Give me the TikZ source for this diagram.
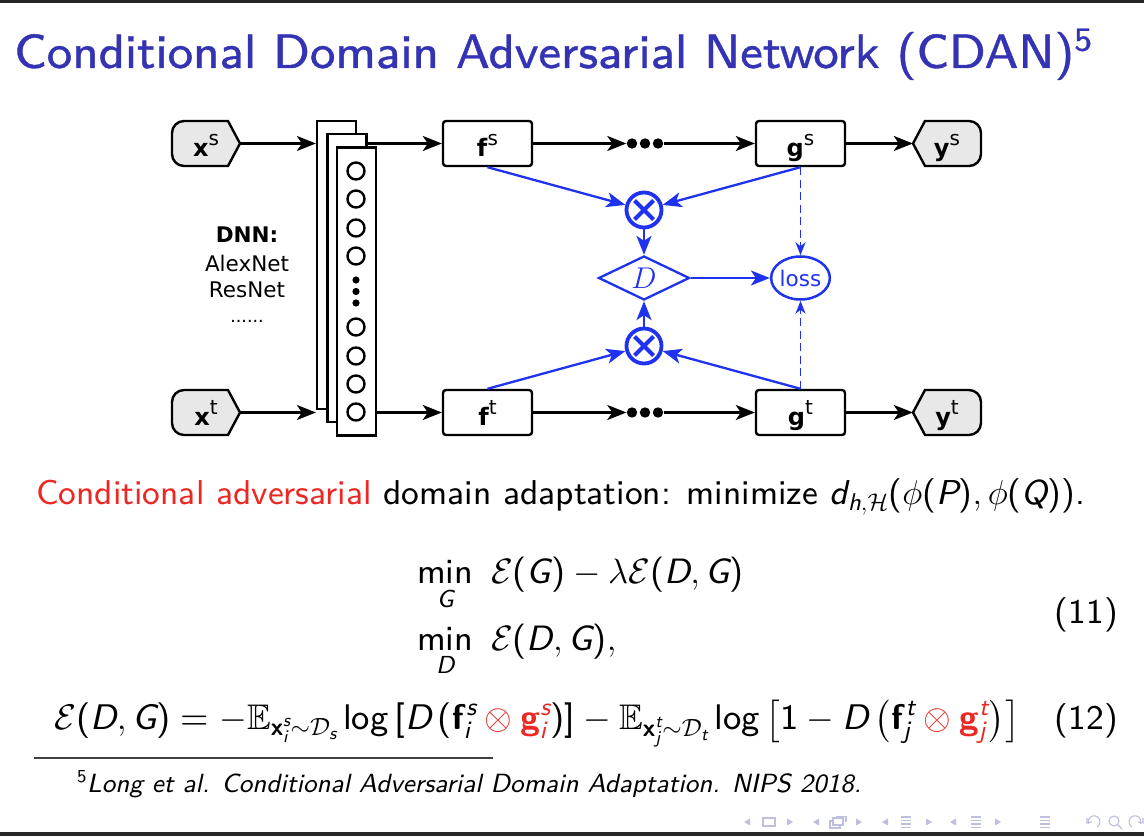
\RequirePackage{fix-cm}
\documentclass[tikz,border=0pt]{standalone}
\usepackage{amssymb}
\usepackage[no-math]{fontspec}
\newfontfamily\dvs{DejaVu Sans}
% slide text face: Latin Modern Sans at its 9pt design size
\newfontfamily\sfN{lmsans9}[Extension=.otf, UprightFont=*-regular, ItalicFont=*-oblique,
  BoldFont=lmsans10-bold, NFSSFamily=lmsN]
\newfontfamily\titlefont{lmsans8}[Extension=.otf, UprightFont=*-regular, FakeBold=0.8]
\usetikzlibrary{arrows.meta,shapes.geometric}

% sans-serif maths in the usual slide style
\SetSymbolFont{operators}{normal}{TU}{lmsN}{m}{n}
\DeclareMathAlphabet{\mi}{TU}{lmsN}{m}{it}
\DeclareMathAlphabet{\mbf}{OT1}{cmss}{bx}{n}

\definecolor{titleblue}{RGB}{51,51,179}
\definecolor{netblue}{RGB}{30,50,240}
\definecolor{alertred}{RGB}{235,40,35}
\definecolor{iogray}{RGB}{232,232,232}
\definecolor{navcol}{RGB}{190,190,222}
\definecolor{barcol}{RGB}{38,38,38}

% bold vector with an upright superscript
\newcommand{\vlab}[2]{\textbf{#1}\raisebox{11pt}{\fontsize{20}{20}\selectfont #2}}

\tikzset{
  blk/.style={line width=2.3pt, -{Stealth[length=19pt,width=15pt,inset=5pt]}},
  blu/.style={netblue, line width=2.3pt, -{Stealth[length=19pt,width=15pt,inset=5pt]}},
  bludash/.style={netblue, line width=1.8pt, dash pattern=on 8pt off 4.5pt,
                  -{Stealth[length=13pt,width=10pt,inset=4pt]}},
  featbox/.style={draw, line width=2.4pt, rounded corners=3pt, minimum width=89pt,
                  minimum height=45pt, inner sep=0pt, text height=28pt, text depth=1pt,
                  font=\dvs\fontsize{24}{24}\selectfont},
  iobox/.style={minimum width=68pt, minimum height=45pt, inner sep=0pt,
                text height=28pt, text depth=1pt, font=\dvs\fontsize{24}{24}\selectfont},
  iofill/.style={draw, fill=iogray, line width=2.4pt},
  layer/.style={draw, fill=white, line width=2.2pt, inner sep=0pt,
                minimum width=39pt, minimum height=288pt},
  unit/.style={circle, draw, line width=2.4pt, minimum size=17pt, inner sep=0pt},
  dotrow/.style={minimum width=37pt, minimum height=10pt, inner sep=0pt},
  prod/.style={circle, draw=netblue, line width=3.8pt, minimum size=35pt, inner sep=0pt},
  dnntext/.style={font=\dvs\fontsize{21.5}{26}\selectfont, anchor=base, inner sep=0pt},
  body/.style={font=\sfN\fontsize{34.5}{41}\selectfont, inner sep=0pt},
}

\begin{document}
\begin{tikzpicture}[x=1pt, y=1pt]
\useasboundingbox (0,0) rectangle (1144,836);
\fill[white] (0,0) rectangle (1144,836);
\fill[barcol] (0,833) rectangle (1144,836);
\fill[barcol] (0,0) rectangle (1144,4);

% ---- title ----
\node[anchor=base west, inner sep=0pt, text=titleblue,
      font=\titlefont\fontsize{48}{56}\selectfont] (title) at (14,768)
  {Conditional Domain Adversarial Network (CDAN)\textsuperscript{5}};

% ---- input / output shapes ----
% x^s, x^t : rounded on the left, pointed on the right
\path[iofill] (228,715) -- (184,715) arc[start angle=90,end angle=180,radius=12]
  -- (172,682) arc[start angle=180,end angle=270,radius=12] -- (228,670) -- (240,692.5) -- cycle;
\path[iofill] (228,446) -- (184,446) arc[start angle=90,end angle=180,radius=12]
  -- (172,413) arc[start angle=180,end angle=270,radius=12] -- (228,401) -- (240,423.5) -- cycle;
% y^s, y^t : pointed on the left, rounded on the right
\path[iofill] (925,715) -- (969,715) arc[start angle=90,end angle=0,radius=12]
  -- (981,682) arc[start angle=0,end angle=-90,radius=12] -- (925,670) -- (913,692.5) -- cycle;
\path[iofill] (925,446) -- (969,446) arc[start angle=90,end angle=0,radius=12]
  -- (981,413) arc[start angle=0,end angle=-90,radius=12] -- (925,401) -- (913,423.5) -- cycle;

\node[iobox] (xs) at (206,692.5) {\vlab{x}{s}};
\node[iobox] (xt) at (206,423.5) {\vlab{x}{t}};
\node[iobox] (ys) at (947,692.5) {\vlab{y}{s}};
\node[iobox] (yt) at (947,423.5) {\vlab{y}{t}};

% ---- stacked network layers ----
\node[layer] (r1) at (336.5,571) {};
\node[layer] (r2) at (347,558) {};
\node[layer] (r3) at (356.5,544.5) {};
\foreach \yy [count=\i] in {665,637,608,580,509,480,452,424}
  \node[unit] (u\i) at (356,\yy) {};
\foreach \yy in {556,544.5,533}
  \fill (356,\yy) circle (3.6);

\node[dnntext, font=\dvs\bfseries\fontsize{21.5}{26}\selectfont] (dnn) at (247,593) {DNN:};
\node[dnntext] (alex) at (247,564) {AlexNet};
\node[dnntext] (resn) at (247,538) {ResNet};
\node[dnntext, font=\dvs\fontsize{17.5}{20}\selectfont] (more) at (247,513) {......};

% ---- feature and classifier boxes ----
\node[featbox] (fs) at (487.5,692.5) {\vlab{f}{s}};
\node[featbox] (ft) at (487.5,423.5) {\vlab{f}{t}};
\node[featbox] (gs) at (800.5,692.5) {\vlab{g}{s}};
\node[featbox] (gt) at (800.5,423.5) {\vlab{g}{t}};

\node[dotrow] (dt) at (645,692.5) {};
\node[dotrow] (db) at (645,423.5) {};
\foreach \dx in {-13,0,13} {
  \fill (dt.center) ++(\dx,0) circle (5.2);
  \fill (db.center) ++(\dx,0) circle (5.2);
}

% ---- black data flow ----
\draw[blk] (xs.east) -- (r1.west |- xs.east);
\draw[blk] (xt.east) -- (r1.west |- xt.east);
\draw[blk] (r2.east |- fs.west) -- (fs.west);
\draw[blk] (r3.east |- ft.west) -- (ft.west);
\draw[blk] (fs) -- (dt);
\draw[blk] (ft) -- (db);
\draw[blk] (dt) -- (gs);
\draw[blk] (db) -- (gt);
\draw[blk] (gs) -- (ys);
\draw[blk] (gt) -- (yt);

% ---- conditional discriminator ----
\node[prod] (ot1) at (644,626) {};
\node[prod] (ot2) at (644,490) {};
\foreach \n in {ot1,ot2}
  \draw[netblue, line width=4pt] (\n.center) +(-9.5,-9.5) -- +(9.5,9.5)
                                  (\n.center) +(-9.5,9.5) -- +(9.5,-9.5);
\node[diamond, aspect=2, draw=netblue, line width=2.3pt, inner sep=0pt,
      minimum width=91pt, minimum height=44pt, text=netblue,
      font=\fontsize{30}{30}\selectfont] (D) at (644,558) {$D$};
\node[ellipse, draw=netblue, line width=2.5pt, inner sep=0pt,
      minimum width=55pt, minimum height=43pt, text=netblue,
      font=\dvs\fontsize{21.5}{24}\selectfont] (loss) at (800.5,558) {loss};

\draw[blu] (fs.south) -- (ot1);
\draw[blu] (gs.south) -- (ot1);
\draw[blu] (ft.north) -- (ot2);
\draw[blu] (gt.north) -- (ot2);
\draw[blu] (ot1) -- (D);
\draw[blu] (ot2) -- (D);
\draw[blu] (D) -- (loss);
\draw[bludash] (gs.south) -- (loss.north);
\draw[bludash] (gt.north) -- (loss.south);

% ---- text and equations ----
\node[body, anchor=base west] (line1) at (36,331)
  {\textcolor{alertred}{Conditional adversarial} domain adaptation: minimize
   $\mi d_{\mi h,\mathcal H}(\phi(\mi P),\phi(\mi Q))$.};

\node[body, anchor=base west, font=\sfN\fontsize{35.2}{41}\selectfont] (eqa) at (417,252)
  {$\displaystyle\min_{\mi G}\ \mathcal E(\mi G)-\lambda\mathcal E(\mi D,\mi G)$};
\node[body, anchor=base west, font=\sfN\fontsize{35.2}{41}\selectfont] (eqb) at (417,185)
  {$\displaystyle\min_{\mi D}\ \mathcal E(\mi D,\mi G),$};
\node[body, anchor=base east] (n11) at (1118,212) {(11)};

\node[body, anchor=base west, font=\sfN\fontsize{35.6}{42}\selectfont] (eqc) at (54,106)
  {$\displaystyle\mathcal E(\mi D,\mi G)=-\mathbb E_{\mbf x_{\mi i}^{\mi s}\sim\mathcal D_{\mi s}}
   \log\,[\mi D\,(\mbf f_{\mi i}^{\mi s}\mathbin{\textcolor{alertred}{\otimes}}
   \textcolor{alertred}{\mbf g_{\mi i}^{\mi s}})]
   -\mathbb E_{\mbf x_{\mi j}^{\mi t}\sim\mathcal D_{\mi t}}
   \log\left[1-\mi D\left(\mbf f_{\mi j}^{\mi t}\mathbin{\textcolor{alertred}{\otimes}}
   \textcolor{alertred}{\mbf g_{\mi j}^{\mi t}}\right)\right]$};
\node[body, anchor=base east] (n12) at (1118,106) {(12)};

% ---- footnote ----
\coordinate (rulea) at (34,78);
\coordinate (ruleb) at (493,78);
\draw[line width=1.3pt, black!75] (rulea) -- (ruleb);
\node[anchor=base west, inner sep=0pt, font=\sfN\fontsize{26.3}{32}\selectfont] (fn) at (77,44)
  {\textsuperscript{5}\textit{Long et al. Conditional Adversarial Domain Adaptation. NIPS 2018.}};

% ---- navigation symbols ----
\begin{scope}[navcol, line width=1.1pt]
  \foreach \xx in {750,819,888,956} \fill (\xx,17.5) -- (\xx-6,14) -- (\xx,10.5) -- cycle;
  \foreach \xx in {787,856,926,995} \fill (\xx,17.5) -- (\xx+6,14) -- (\xx,10.5) -- cycle;
  \draw (763,10) rectangle (775,18);
  \draw (830,8) rectangle (840,15);
  \filldraw[fill=white] (833,11) rectangle (843,18);
  \draw (836,19.5) -- (846,19.5) -- (846,14);
  \foreach \xx in {906,976,1045} {
    \draw (\xx-5,19) -- (\xx+5,19);
    \draw (\xx-5,15.5) -- (\xx+5,15.5);
    \draw (\xx-5,12) -- (\xx+5,12);
    \draw (\xx-5,8.5) -- (\xx+5,8.5);
  }
  \draw (1097,9) arc[start angle=-60,end angle=200,radius=6];
  \draw (1087,18) -- (1087,13) -- (1092,14);
  \draw (1114,15) circle (5);
  \draw (1117.5,11.5) -- (1122,7);
  \draw (1132,9) arc[start angle=240,end angle=-20,radius=6];
  \draw (1143,18) -- (1143,13) -- (1138,14);
\end{scope}
\end{tikzpicture}
\end{document}
